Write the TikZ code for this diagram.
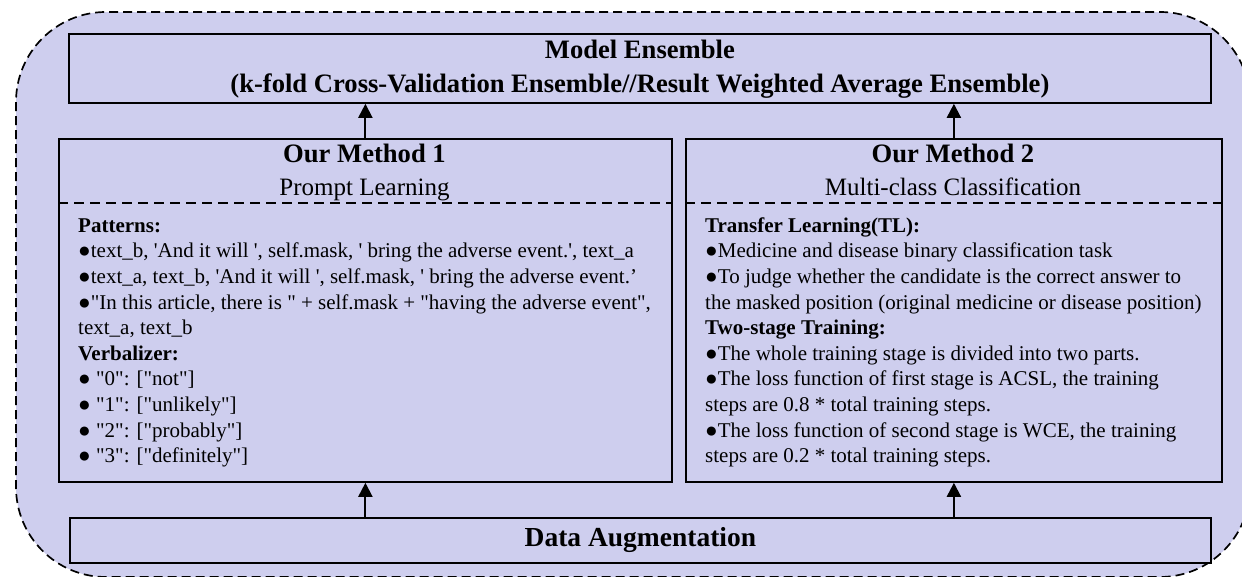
\documentclass[tikz,border=0pt]{standalone}
\usepackage{fontspec}
\setmainfont{Liberation Serif}[Ligatures=TeXOff]
\usetikzlibrary{arrows.meta}
\definecolor{bgfill}{RGB}{206,206,238}
\begin{document}
\begin{tikzpicture}[x=1pt,y=-1pt,
  box/.style={draw=black,line width=1.8pt,fill=bgfill,inner sep=0pt,anchor=north west},
  headfont/.style={font=\fontsize{25}{32}\selectfont},
  boldhead/.style={font=\fontsize{26.6}{34}\selectfont\bfseries},
  body/.style={align=left,inner sep=0pt,anchor=north west,font=\fontsize{21}{25.6}\selectfont},
  sepline/.style={line width=1.8pt,dash pattern=on 10pt off 6pt},
  arr/.style={line width=2pt,-{Triangle[width=14pt,length=14pt]}}]
\useasboundingbox (0,0) rectangle (1242,576);
\begin{scope}
\clip (0,0) rectangle (1242,576);
\draw[fill=bgfill,line width=1.7pt,dash pattern=on 9pt off 5pt,rounded corners=90pt] (16,12) rectangle (1250,577);
\end{scope}
% boxes
\node[box,minimum width=1142pt,minimum height=69pt] (ens) at (68,33) {};
\node[box,minimum width=613pt,minimum height=343pt] (m1) at (58,138) {};
\node[box,minimum width=536pt,minimum height=343pt] (m2) at (685,138) {};
\node[box,minimum width=1141pt,minimum height=45pt] (aug) at (69,517) {};
% texts
\node[boldhead,align=center,inner sep=0pt] (enst) at ([yshift=-1pt]ens.center) {Model Ensemble\\(k-fold Cross-Validation Ensemble//Result Weighted Average Ensemble)};
\node[boldhead,inner sep=0pt,font=\fontsize{27.5}{34}\selectfont\bfseries] (augt) at (aug.center) {Data Augmentation};
\node[boldhead,anchor=base,inner sep=0pt] (m1h) at (364.5,162) {Our Method 1};
\node[headfont,anchor=base,inner sep=0pt] (m1s) at (364.5,195) {Prompt Learning};
\node[boldhead,anchor=base,inner sep=0pt] (m2h) at (953,162) {Our Method 2};
\node[headfont,anchor=base,inner sep=0pt] (m2s) at (953,195) {Multi-class Classification};
\coordinate (sy) at (0,203);
\draw[sepline] (m1.west |- sy) -- (m1.east |- sy);
\draw[sepline] (m2.west |- sy) -- (m2.east |- sy);
\node[body] (m1b) at (78,214.1) {\strut\textbf{Patterns:}\\
●text\_b, 'And it will ', self.mask, ' bring the adverse event.', text\_a\\
●text\_a, text\_b, 'And it will ', self.mask, ' bring the adverse event.’\\
●"In this article, there is " + self.mask + "having the adverse event",\\
text\_a, text\_b\\
\textbf{Verbalizer:}\\
● "0": ["not"]\\
● "1": ["unlikely"]\\
● "2": ["probably"]\\
● "3": ["definitely"]};
\node[body] (m2b) at (705,214.1) {\strut\textbf{Transfer Learning(TL):}\\
●Medicine and disease binary classification task\\
●To judge whether the candidate is the correct answer to\\
the masked position (original medicine or disease position)\\
\textbf{Two-stage Training:}\\
●The whole training stage is divided into two parts.\\
●The loss function of first stage is ACSL, the training\\
steps are 0.8 * total training steps.\\
●The loss function of second stage is WCE, the training\\
steps are 0.2 * total training steps.};
% arrows
\draw[arr] (m1.north) -- (m1.north |- ens.south);
\draw[arr] (m2.north) -- (m2.north |- ens.south);
\draw[arr] (aug.north -| m1.south) -- (m1.south);
\draw[arr] (aug.north -| m2.south) -- (m2.south);
\end{tikzpicture}
\end{document}
